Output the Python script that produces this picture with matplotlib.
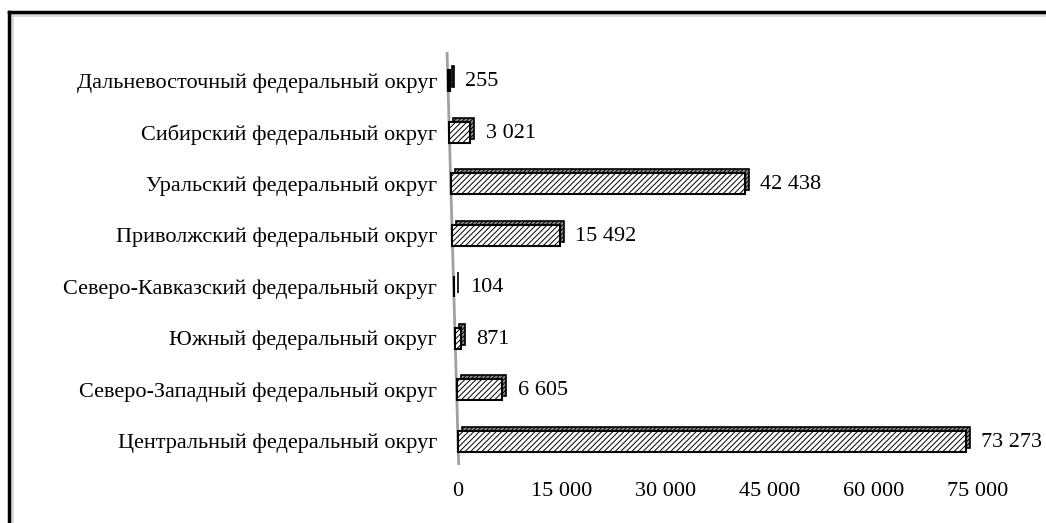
import numpy as np
import matplotlib
matplotlib.use("Agg")
import matplotlib.pyplot as plt
import matplotlib.transforms as mtransforms
from matplotlib.lines import Line2D

# Data (bottom to top)
districts = ["Центральный федеральный округ",
             "Северо-Западный федеральный округ",
             "Южный федеральный округ",
             "Северо-Кавказский федеральный округ",
             "Приволжский федеральный округ",
             "Уральский федеральный округ",
             "Сибирский федеральный округ",
             "Дальневосточный федеральный округ"]
values = [73273, 6605, 871, 104, 15492, 42438, 3021, 255]
xticks = [0, 15000, 30000, 45000, 60000, 75000]
xtick_labels = ["0", "15 000", "30 000", "45 000", "60 000", "75 000"]
value_labels = ["73 273", "6 605", "871", "104", "15 492", "42 438", "3 021", "255"]

plt.rcParams['font.family'] = ['Liberation Serif', 'DejaVu Serif']
plt.rcParams['hatch.linewidth'] = 0.7
fs = 16

W, H = 1046, 523
fig = plt.figure(figsize=(W / 100, H / 100), dpi=100)

# axes geometry in pixels
px_per_unit = 104 / 15000
ax_left, ax_right = 440, 1005
ax_bottom, ax_top = 465, 52
zero_px = 458
y0_px, step_px = 441, 51.5
ax = fig.add_axes([ax_left / W, 1 - ax_bottom / H,
                   (ax_right - ax_left) / W, (ax_bottom - ax_top) / H])
x_lo = -(zero_px - ax_left) / px_per_unit
ax.set_xlim(x_lo, x_lo + (ax_right - ax_left) / px_per_unit)
ax.set_ylim(-(ax_bottom - y0_px) / step_px, (y0_px - ax_top) / step_px)

# perspective slant of the value axis (data units per category)
slant = 1.45 / px_per_unit
y = np.arange(len(values))
lefts = -slant * y

bar_h = 21 / step_px
# depth (top/right face) drawn behind, shifted up-right
depth = mtransforms.ScaledTranslation(4 / 100, 4 / 100, fig.dpi_scale_trans)
back = ax.barh(y, values, left=lefts, height=bar_h, color='#8c8c8c',
               edgecolor='black', linewidth=1.2, hatch='////////', zorder=2)
for p in back:
    p.set_transform(ax.transData + depth)
ax.barh(y, values, left=lefts, height=bar_h, color='white',
        edgecolor='black', linewidth=1.5, hatch='//////', zorder=3)

# slanted axis line
ylim = ax.get_ylim()
ax.plot([-slant * ylim[0], -slant * ylim[1]], ylim, color='#a0a0a0', lw=2, zorder=1)

for yi, v, l, lab in zip(y, values, lefts, value_labels):
    ax.annotate(lab, (v + l, yi), xytext=(11, -1), textcoords='offset points',
                va='center', ha='left', fontsize=fs)

ax.set_yticks(y)
ax.set_yticklabels(districts, fontsize=fs)
ax.set_xticks(xticks)
ax.set_xticklabels(xtick_labels, fontsize=fs)
ax.tick_params(axis='both', length=0)
ax.tick_params(axis='x', pad=12)
ax.tick_params(axis='y', pad=2)
for s in ax.spines.values():
    s.set_visible(False)

# outer frame (top and left edges)
fig.add_artist(Line2D([12 / W, 1], [1 - 15 / H] * 2, color='#d8d8d8', lw=2))
fig.add_artist(Line2D([12 / W] * 2, [0, 1 - 15 / H], color='#d8d8d8', lw=2))
fig.add_artist(Line2D([9 / W, 1], [1 - 12 / H] * 2, color='black', lw=2.5))
fig.add_artist(Line2D([9 / W] * 2, [0, 1 - 12 / H], color='black', lw=2.5))

fig.savefig("out.png", dpi=100)
